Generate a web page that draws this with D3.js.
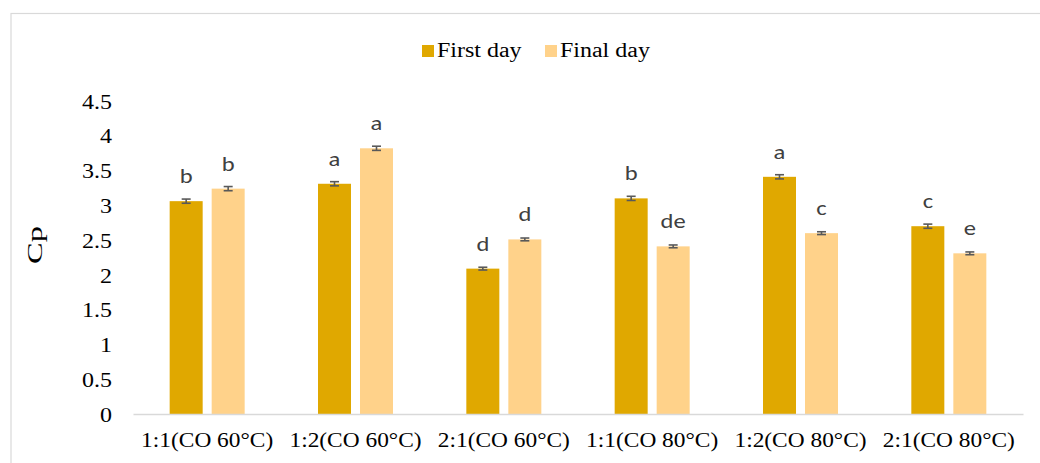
<!DOCTYPE html>
<html>
<head>
<meta charset="utf-8">
<script src="https://cdn.jsdelivr.net/npm/d3@7"></script>
<style>
  html, body { margin: 0; padding: 0; background: #fff; }
  svg { display: block; }
</style>
</head>
<body>
<svg id="chart" width="1040" height="463"></svg>
<script>
const categories = ["1:1(CO 60°C)", "1:2(CO 60°C)", "2:1(CO 60°C)", "1:1(CO 80°C)", "1:2(CO 80°C)", "2:1(CO 80°C)"];
const seriesNames = ["First day", "Final day"];
const firstDay = [3.06, 3.31, 2.09, 3.10, 3.41, 2.70];
const finalDay = [3.24, 3.82, 2.51, 2.41, 2.60, 2.31];
const firstErr = [0.03, 0.03, 0.02, 0.03, 0.03, 0.03];
const finalErr = [0.03, 0.03, 0.02, 0.02, 0.02, 0.02];
const firstLetters = ["b", "a", "d", "b", "a", "c"];
const finalLetters = ["b", "a", "d", "de", "c", "e"];
const yTicks = [0, 0.5, 1, 1.5, 2, 2.5, 3, 3.5, 4, 4.5];
const colors = ["#E0A800", "#FFD28A"];

const SERIF = "Liberation Serif";
const SANS = "Carlito";
const STRETCH = "scale(1.17,1)";

const svg = d3.select("#chart");

// frame
svg.append("rect").attr("x", 11).attr("y", 13.5).attr("width", 1060).attr("height", 470)
  .attr("fill", "none").attr("stroke", "#D9D9D9").attr("stroke-width", 1.2);

const plot = { left: 133, right: 1023, top: 101, bottom: 414 };
const x0 = d3.scaleBand().domain(categories).range([plot.left, plot.right]).paddingInner(0).paddingOuter(0);
const y = d3.scaleLinear().domain([0, 4.5]).range([plot.bottom, plot.top]);

const barW = 33, gap = 9;
const series = [firstDay, finalDay];
const errs = [firstErr, finalErr];
const letters = [firstLetters, finalLetters];

// y-axis labels
const yAxis = d3.axisLeft(y).tickValues(yTicks).tickSize(0).tickFormat(d => d3.format("")(d));
const gy = svg.append("g").attr("transform", `translate(112,0)`).call(yAxis);
gy.select(".domain").remove();
gy.selectAll("text").attr("x", 0).attr("dy", "0.35em").attr("transform", STRETCH)
  .style("font-family", SERIF).style("font-size", "20.5px").attr("fill", "#000");

// bars
series.forEach((vals, si) => {
  const g = svg.append("g");
  categories.forEach((c, i) => {
    const cx = x0(c) + x0.bandwidth() / 2;
    const bx = si === 0 ? cx - gap / 2 - barW : cx + gap / 2;
    const v = vals[i];
    g.append("rect").attr("x", bx).attr("y", y(v)).attr("width", barW).attr("height", y(0) - y(v))
      .attr("fill", colors[si]);
    const mx = bx + barW / 2;
    const e = errs[si][i];
    const eg = g.append("g").attr("stroke", "#595959").attr("stroke-width", 1.6);
    eg.append("line").attr("x1", mx).attr("x2", mx).attr("y1", y(v + e)).attr("y2", y(v - e));
    eg.append("line").attr("x1", mx - 4.5).attr("x2", mx + 4.5).attr("y1", y(v + e)).attr("y2", y(v + e));
    eg.append("line").attr("x1", mx - 4.5).attr("x2", mx + 4.5).attr("y1", y(v - e)).attr("y2", y(v - e));
    g.append("text").attr("transform", `translate(${mx},${y(v) - 18}) ${STRETCH}`).attr("text-anchor", "middle")
      .style("font-family", SANS).style("font-size", "21px")
      .attr("fill", "#404040").text(letters[si][i]);
  });
});

// x axis
const xAxis = d3.axisBottom(x0).tickSize(0).tickSizeOuter(0);
const gx = svg.append("g").attr("transform", `translate(0,${plot.bottom})`).call(xAxis);
gx.select(".domain").attr("stroke", "#D9D9D9").attr("stroke-width", 1.5);
gx.selectAll("text").attr("y", 19).attr("dy", "0.71em").attr("transform", STRETCH)
  .style("font-family", SERIF).style("font-size", "20px").attr("fill", "#000");

// y-axis title
svg.append("text").attr("transform", `translate(42,245) rotate(-90) scale(1.35,0.85)`).attr("text-anchor", "middle")
  .style("font-family", SERIF).style("font-size", "24px").attr("fill", "#000")
  .text("Cp");

// legend
const legend = svg.append("g");
const legX = [422, 545];
seriesNames.forEach((n, i) => {
  legend.append("rect").attr("x", legX[i]).attr("y", 45).attr("width", 12).attr("height", 12).attr("fill", colors[i]);
  legend.append("text").attr("transform", `translate(${legX[i] + 15},57) ${STRETCH}`)
    .style("font-family", SERIF).style("font-size", "20.5px").attr("fill", "#000")
    .text(n);
});
</script>
</body>
</html>
